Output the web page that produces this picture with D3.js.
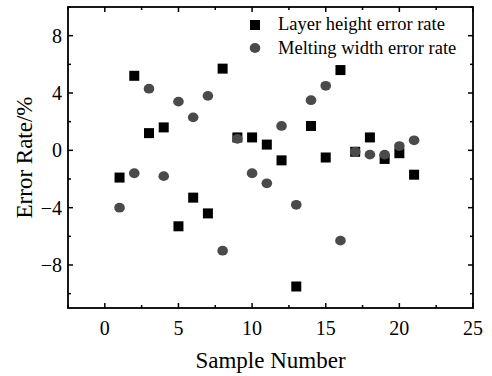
<!DOCTYPE html>
<html>
<head>
<meta charset="utf-8">
<script src="https://cdn.jsdelivr.net/npm/d3@7"></script>
<style>
  body { margin: 0; background: #fff; }
  text { font-family: "Liberation Serif", "Times New Roman", serif; fill: #000; }
</style>
</head>
<body>
<svg id="chart" width="492" height="376"></svg>
<script>
// sample numbers and the two error-rate series (%)
const samples = [1, 2, 3, 4, 5, 6, 7, 8, 9, 10, 11, 12, 13, 14, 15, 16, 17, 18, 19, 20, 21];
const layerHeight = [-1.9, 5.2, 1.2, 1.6, -5.3, -3.3, -4.4, 5.7, 0.9, 0.9, 0.4, -0.7, -9.5, 1.7, -0.5, 5.6, -0.1, 0.9, -0.6, -0.2, -1.7];
const meltingWidth = [-4.0, -1.6, 4.3, -1.8, 3.4, 2.3, 3.8, -7.0, 0.8, -1.6, -2.3, 1.7, -3.8, 3.5, 4.5, -6.3, -0.1, -0.3, -0.3, 0.3, 0.7];
const xTicks = [0, 5, 10, 15, 20, 25];
const yTicks = [-8, -4, 0, 4, 8];
const legendLabels = ['Layer height error rate', 'Melting width error rate'];

const svg = d3.select('#chart');
const m = { left: 68, right: 473, top: 7, bottom: 308 };

const x = d3.scaleLinear().domain([-2.5, 25]).range([m.left, m.right]);
const y = d3.scaleLinear().domain([-11, 10]).range([m.bottom, m.top]);

// minor ticks between the majors
const xMinor = d3.range(-2.5, 25.01, 2.5).filter(v => !xTicks.includes(v));
const yMinor = d3.range(-10, 10.01, 2).filter(v => !yTicks.includes(v));

const g = svg.append('g');

// ticks pointing inside, on all four sides
const drawTicks = (xs, ys, len) => {
  xs.forEach(v => {
    g.append('line').attr('x1', x(v)).attr('x2', x(v)).attr('y1', m.bottom).attr('y2', m.bottom - len)
      .attr('stroke', '#000').attr('stroke-width', 1.5);
    g.append('line').attr('x1', x(v)).attr('x2', x(v)).attr('y1', m.top).attr('y2', m.top + len)
      .attr('stroke', '#000').attr('stroke-width', 1.5);
  });
  ys.forEach(v => {
    g.append('line').attr('x1', m.left).attr('x2', m.left + len).attr('y1', y(v)).attr('y2', y(v))
      .attr('stroke', '#000').attr('stroke-width', 1.5);
    g.append('line').attr('x1', m.right).attr('x2', m.right - len).attr('y1', y(v)).attr('y2', y(v))
      .attr('stroke', '#000').attr('stroke-width', 1.5);
  });
};
drawTicks(xTicks, yTicks, 5);
drawTicks(xMinor, yMinor, 3);

// frame
g.append('rect')
  .attr('x', m.left).attr('y', m.top)
  .attr('width', m.right - m.left).attr('height', m.bottom - m.top)
  .attr('fill', 'none').attr('stroke', '#000').attr('stroke-width', 1.8);

// tick labels
g.selectAll('.xl').data(xTicks).enter().append('text')
  .attr('class', 'xl')
  .attr('x', d => x(d)).attr('y', m.bottom + 27)
  .attr('text-anchor', 'middle').attr('font-size', 20)
  .text(d => d);

g.selectAll('.yl').data(yTicks).enter().append('text')
  .attr('class', 'yl')
  .attr('x', m.left - 6).attr('y', d => y(d) + 7)
  .attr('text-anchor', 'end').attr('font-size', 20)
  .text(d => d < 0 ? '\u2212' + Math.abs(d) : d);

// axis titles
svg.append('text')
  .attr('x', (m.left + m.right) / 2).attr('y', 368)
  .attr('text-anchor', 'middle').attr('font-size', 23)
  .text('Sample Number');

svg.append('text')
  .attr('transform', `translate(32,${(m.top + m.bottom) / 2}) rotate(-90)`)
  .attr('text-anchor', 'middle').attr('font-size', 23)
  .text('Error Rate/%');

// layer height: black squares
const sq = 10;
svg.append('g').selectAll('rect')
  .data(samples.map((s, i) => [s, layerHeight[i]]))
  .enter().append('rect')
  .attr('x', d => x(d[0]) - sq / 2).attr('y', d => y(d[1]) - sq / 2)
  .attr('width', sq).attr('height', sq)
  .attr('fill', '#000');

// melting width: grey circles
svg.append('g').selectAll('ellipse')
  .data(samples.map((s, i) => [s, meltingWidth[i]]))
  .enter().append('ellipse')
  .attr('cx', d => x(d[0])).attr('cy', d => y(d[1]))
  .attr('rx', 5.3).attr('ry', 4.9)
  .attr('fill', '#4a4a4a');

// legend
const leg = svg.append('g');
leg.append('rect').attr('x', 255 - sq / 2).attr('y', 25 - sq / 2)
  .attr('width', sq).attr('height', sq).attr('fill', '#000');
leg.append('ellipse').attr('cx', 255).attr('cy', 48)
  .attr('rx', 5.3).attr('ry', 4.9).attr('fill', '#4a4a4a');
leg.selectAll('text').data(legendLabels).enter().append('text')
  .attr('x', 278).attr('y', (d, i) => 30 + i * 23.5)
  .attr('font-size', 18.5)
  .text(d => d);
</script>
</body>
</html>
